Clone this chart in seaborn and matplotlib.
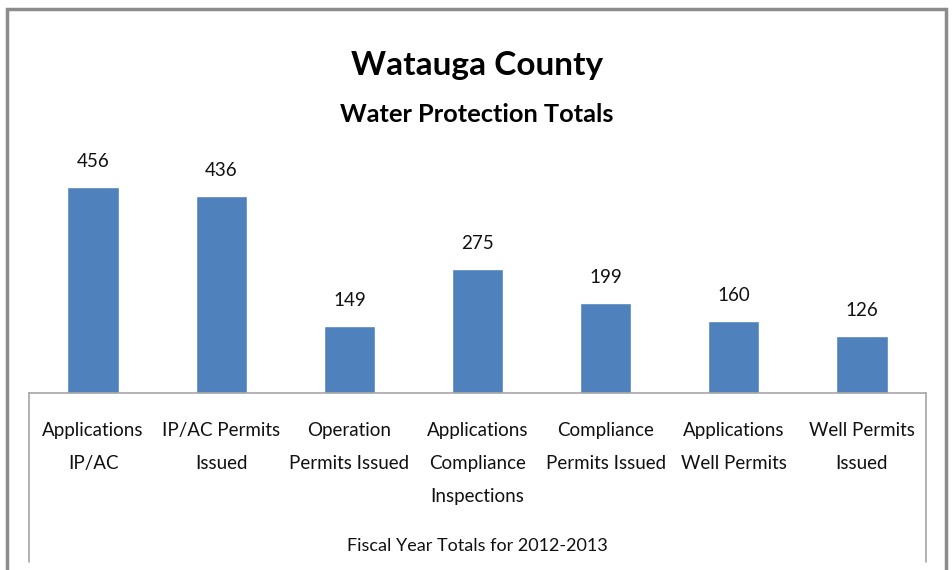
import pandas as pd
import seaborn as sns
import matplotlib.pyplot as plt
from matplotlib.patches import Rectangle
from matplotlib.lines import Line2D

# Données du graphique
categories = [
    "Applications\nIP/AC",
    "IP/AC Permits\nIssued",
    "Operation\nPermits Issued",
    "Applications\nCompliance\nInspections",
    "Compliance\nPermits Issued",
    "Applications\nWell Permits",
    "Well Permits\nIssued",
]
totals = [456, 436, 149, 275, 199, 160, 126]

title = "Watauga County"
subtitle = "Water Protection Totals"
axis_title = "Fiscal Year Totals for 2012-2013"

sns.set_style("white")
plt.rcParams['font.family'] = ['Lato', 'DejaVu Sans']

W, H = 953, 570
fig = plt.figure(figsize=(W / 100, H / 100), dpi=100)
ax = fig.add_axes([29 / W, (H - 393) / H, (926 - 29) / W, (393 - 140) / H])

df = pd.DataFrame({"cat": categories, "val": totals})
sns.barplot(data=df, x="cat", y="val", color="#4F81BD", width=0.4,
            saturation=1, ax=ax)

ax.set_ylim(0, 560)
ax.set_xlim(-0.5, len(categories) - 0.5)
ax.bar_label(ax.containers[0], fmt="%d", padding=12, fontsize=13.5, color="#111111")

ax.set_yticks([])
ax.set_ylabel("")
ax.set_xlabel("")
ax.set_xticks(range(len(categories)))
ax.set_xticklabels(categories, linespacing=2.15, va="top")
ax.tick_params(axis="x", length=0, pad=21, labelsize=13.5, labelcolor="#111111")

for s in ["top", "left", "right"]:
    ax.spines[s].set_visible(False)
ax.spines["bottom"].set_color("#A6A6A6")
ax.spines["bottom"].set_linewidth(1.2)

# cadre de l'axe des catégories
for x in (29, 926):
    fig.add_artist(Line2D([x / W, x / W], [(H - 393) / H, (H - 562) / H],
                          color="#A6A6A6", lw=1.2))

# cadre extérieur
fig.add_artist(Rectangle((7 / W, -0.02), (946 - 7) / W, (H - 9) / H + 0.02,
                         fill=False, edgecolor="#8C8C8C", lw=2.5))

fig.text(477 / W, 1 - 65 / H, title, ha="center", va="center",
         fontsize=24, fontweight="bold", color="#000000")
fig.text(477 / W, 1 - 114 / H, subtitle, ha="center", va="center",
         fontsize=18.3, fontweight="bold", color="#000000")
fig.text(477 / W, 1 - 546 / H, axis_title, ha="center", va="center",
         fontsize=13, color="#111111")

fig.savefig("out.png", dpi=100)
